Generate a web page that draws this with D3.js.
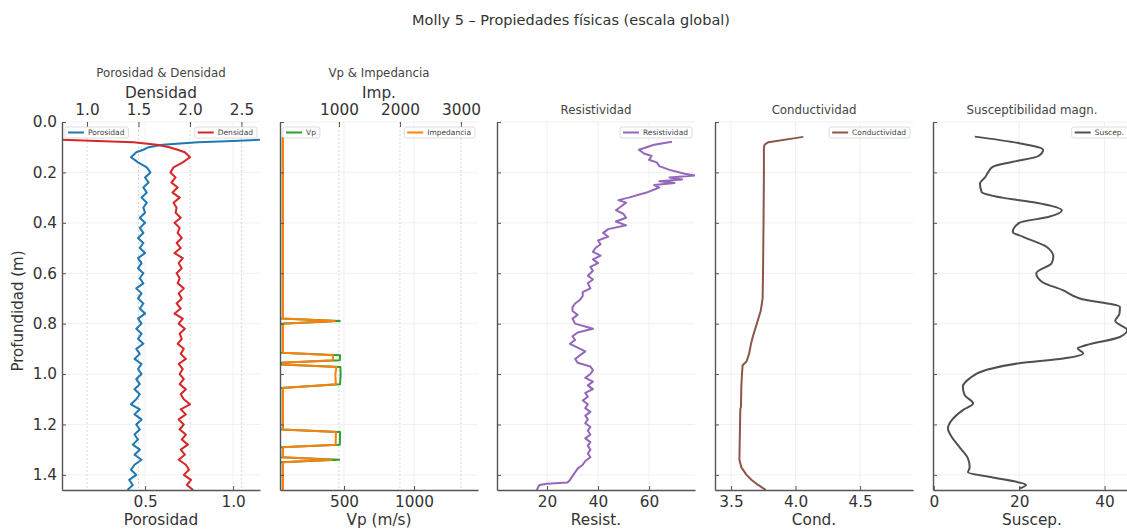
<!DOCTYPE html>
<html>
<head>
<meta charset="utf-8">
<script src="https://cdn.jsdelivr.net/npm/d3@7"></script>
<style>
    body { margin: 0; background: #fff; }
    svg { font-family: "DejaVu Sans", sans-serif; }
</style>
</head>
<body>
<svg id="drawing_region"></svg>
<script>
const chartTitle = 'Molly 5 – Propiedades físicas (escala global)';
const depthTicks = [0.0, 0.2, 0.4, 0.6, 0.8, 1.0, 1.2, 1.4];

// Porosidad & Densidad
const pdDepth = [0.07, 0.075, 0.08, 0.09, 0.10, 0.11,
    0.12, 0.14, 0.16, 0.18, 0.20, 0.22, 0.24, 0.26, 0.28, 0.30,
    0.32, 0.34, 0.36, 0.38, 0.40, 0.42, 0.44, 0.46, 0.48, 0.50,
    0.52, 0.54, 0.56, 0.58, 0.60, 0.62, 0.64, 0.66, 0.68, 0.70,
    0.72, 0.74, 0.76, 0.78, 0.80, 0.82, 0.84, 0.86, 0.88, 0.90,
    0.92, 0.94, 0.96, 0.98, 1.00, 1.02, 1.04, 1.06, 1.08, 1.10,
    1.12, 1.14, 1.16, 1.18, 1.20, 1.22, 1.24, 1.26, 1.28, 1.30,
    1.32, 1.34, 1.36, 1.38, 1.40, 1.42, 1.44, 1.46];
const porosidad = [1.16, 1.00, 0.80, 0.60, 0.52, 0.49,
    0.45, 0.42, 0.46, 0.51, 0.53, 0.50, 0.52, 0.49, 0.51, 0.48,
    0.51, 0.49, 0.50, 0.47, 0.50, 0.47, 0.49, 0.46, 0.49, 0.47,
    0.50, 0.46, 0.48, 0.46, 0.49, 0.47, 0.49, 0.45, 0.48, 0.46,
    0.49, 0.47, 0.50, 0.46, 0.48, 0.45, 0.48, 0.46, 0.49, 0.45,
    0.47, 0.44, 0.48, 0.46, 0.48, 0.45, 0.47, 0.44, 0.47, 0.45,
    0.42, 0.47, 0.44, 0.48, 0.45, 0.47, 0.44, 0.46, 0.43, 0.47,
    0.44, 0.48, 0.44, 0.42, 0.45, 0.41, 0.43, 0.40];
const densidad = [0.76, 1.10, 1.45, 1.68, 1.80, 1.88,
    1.95, 2.00, 1.93, 1.84, 1.81, 1.86, 1.82, 1.88, 1.83, 1.90,
    1.84, 1.87, 1.86, 1.91, 1.85, 1.90, 1.88, 1.92, 1.87, 1.91,
    1.85, 1.93, 1.89, 1.92, 1.87, 1.90, 1.88, 1.94, 1.89, 1.92,
    1.87, 1.91, 1.85, 1.93, 1.89, 1.95, 1.90, 1.92, 1.88, 1.94,
    1.91, 1.96, 1.89, 1.93, 1.90, 1.94, 1.90, 1.96, 1.91, 1.94,
    2.00, 1.91, 1.96, 1.89, 1.94, 1.90, 1.96, 1.92, 1.98, 1.91,
    1.95, 1.89, 1.96, 1.99, 1.94, 2.01, 1.97, 2.03];
const porTicks = [0.5, 1.0];
const denTicks = [1.0, 1.5, 2.0, 2.5];

// Vp & Impedancia
const vpDepth = [0.06, 0.78, 0.79, 0.80, 0.915, 0.925, 0.945, 0.955, 0.962, 0.972,
    1.00, 1.04, 1.055, 1.22, 1.23, 1.28, 1.29, 1.33, 1.34, 1.35, 1.46];
const vp = [45, 45, 470, 45, 45, 472, 470, 45, 45, 474,
    476, 472, 45, 45, 472, 470, 45, 45, 466, 45, 45];
const impedancia = [82, 82, 930, 82, 82, 905, 900, 82, 82, 960,
    940, 950, 82, 82, 950, 945, 82, 82, 880, 82, 82];
const vpTicks = [500, 1000];
const impTicks = [1000, 2000, 3000];

// Resistividad
const resDepth = [0.078, 0.09, 0.11, 0.125, 0.135, 0.15, 0.16, 0.175, 0.19, 0.205,
    0.212, 0.22, 0.228, 0.235, 0.242, 0.25, 0.26, 0.28, 0.30, 0.31,
    0.32, 0.335, 0.35, 0.365, 0.38, 0.395, 0.41, 0.425, 0.44, 0.455,
    0.47, 0.485, 0.50, 0.515, 0.53, 0.545, 0.56, 0.575, 0.59, 0.61,
    0.625, 0.64, 0.66, 0.675, 0.69, 0.705, 0.72, 0.735, 0.75, 0.765,
    0.78, 0.80, 0.82, 0.835, 0.85, 0.865, 0.88, 0.895, 0.91, 0.925,
    0.94, 0.955, 0.97, 0.985, 1.00, 1.015, 1.03, 1.045, 1.06, 1.075,
    1.09, 1.105, 1.12, 1.135, 1.15, 1.165, 1.18, 1.195, 1.21, 1.225,
    1.24, 1.255, 1.27, 1.285, 1.30, 1.315, 1.33, 1.345, 1.36, 1.375,
    1.39, 1.405, 1.42, 1.43, 1.435, 1.44, 1.46];
const resistividad = [69, 62, 56, 58, 61, 60, 63, 64, 68, 74,
    78, 68, 73, 64, 70, 62, 64, 59, 52, 48,
    51, 49, 47, 50, 51, 47, 51, 44, 42, 44,
    40, 41, 39, 38, 41, 38, 40, 37, 38, 36,
    38, 36, 37, 34, 34, 33, 31, 30, 30, 32,
    30, 31, 38, 32, 30, 31, 29, 32, 35, 33,
    31, 32, 37, 38, 37, 35, 38, 36, 38, 35,
    36, 34, 36, 35, 37, 35, 36, 35, 37, 36,
    37, 35, 37, 36, 37, 36, 37, 35, 34, 32,
    31, 30, 29, 28, 20, 17, 16];
const resTicks = [20, 40, 60];

// Conductividad
const condDepth = [0.059, 0.08, 0.09, 0.10, 0.20, 0.40, 0.60, 0.70, 0.75, 0.80,
    0.85, 0.88, 0.92, 0.95, 0.965, 1.00, 1.05, 1.13, 1.14, 1.34,
    1.37, 1.40, 1.42, 1.44, 1.46];
const conductividad = [4.06, 3.79, 3.76, 3.755, 3.755, 3.752, 3.748, 3.745, 3.73, 3.70,
    3.67, 3.655, 3.64, 3.62, 3.59, 3.585, 3.58, 3.577, 3.572, 3.565,
    3.58, 3.62, 3.66, 3.71, 3.77];
const condTicks = [3.5, 4.0, 4.5];

// Susceptibilidad magn.
const susDepth = [0.058, 0.084, 0.11, 0.135, 0.158, 0.178, 0.20, 0.22, 0.243, 0.278,
    0.30, 0.32, 0.35, 0.376, 0.40, 0.436, 0.455, 0.495, 0.535, 0.56,
    0.60, 0.634, 0.667, 0.70, 0.734, 0.76, 0.79, 0.825, 0.853, 0.885,
    0.898, 0.918, 0.938, 0.957, 0.983, 1.017, 1.05, 1.083, 1.117, 1.143,
    1.183, 1.215, 1.25, 1.29, 1.335, 1.37, 1.39, 1.41, 1.43, 1.44, 1.454];
const susceptibilidad = [9.6, 20, 25.6, 24.5, 18.5, 13.8, 12.7, 12, 10.8, 11.2,
    16, 24, 30, 27, 20, 18.5, 20.8, 26.4, 28, 27.6,
    24, 25.3, 30.2, 34.2, 43.6, 43.5, 42.5, 45.3, 43.6, 35.8,
    33.7, 35, 30.3, 20, 12.4, 8.4, 6.8, 7.2, 9.2, 6.8,
    4.2, 3.3, 4.2, 6, 8, 8.4, 8, 13.8, 20, 21.6, 20];
const susTicks = [0, 20, 40];

const W = 1127, H = 531;
const plotTop = 122, plotBottom = 490, trackWidth = 198;
const tickFont = '15.3px';

const svg = d3.select('#drawing_region').attr('width', W).attr('height', H);
const yScale = d3.scaleLinear().domain([0, 1.46]).range([plotTop, plotBottom]);

class LogTrack {

    constructor(config) {
        this.config = config;
        this.x0 = config.left;
        this.x1 = config.left + trackWidth;
        this.init();
    }

    init() {
        let self = this;
        self.g = svg.append('g');
        self.xBottom = d3.scaleLinear().domain(self.config.domain).range([self.x0, self.x1]);
        if (self.config.topDomain) {
            self.xTop = d3.scaleLinear().domain(self.config.topDomain).range([self.x0, self.x1]);
        }
        self.clipId = 'clip' + self.config.left;
        svg.append('clipPath').attr('id', self.clipId)
            .append('rect')
            .attr('x', self.x0).attr('y', plotTop)
            .attr('width', trackWidth).attr('height', plotBottom - plotTop);
    }

    render() {
        let self = this;
        const c = self.config;
        const cx = self.x0 + trackWidth / 2;

        // grid
        const grid = self.g.append('g');
        grid.selectAll('.hg').data(depthTicks).enter().append('line')
            .attr('x1', self.x0).attr('x2', self.x1)
            .attr('y1', d => yScale(d)).attr('y2', d => yScale(d))
            .attr('stroke', '#ececec').attr('stroke-width', 0.8);
        grid.selectAll('.vg').data(c.ticks).enter().append('line')
            .attr('x1', d => self.xBottom(d)).attr('x2', d => self.xBottom(d))
            .attr('y1', plotTop).attr('y2', plotBottom)
            .attr('stroke', '#ececec').attr('stroke-width', 0.8);
        if (self.xTop) {
            grid.selectAll('.tg').data(c.topTicks).enter().append('line')
                .attr('x1', d => self.xTop(d)).attr('x2', d => self.xTop(d))
                .attr('y1', plotTop).attr('y2', plotBottom)
                .attr('stroke', '#c8c8c8').attr('stroke-width', 0.7)
                .attr('stroke-dasharray', '2,2');
        }

        // curves
        c.series.forEach(s => {
            const xs = s.top ? self.xTop : self.xBottom;
            const line = d3.line()
                .x(d => xs(d.v))
                .y(d => yScale(d.d))
                .curve(s.curve || d3.curveLinear);
            const pts = s.depth.map((d, i) => ({ d: d, v: s.values[i] }));
            self.g.append('path')
                .datum(pts)
                .attr('clip-path', `url(#${self.clipId})`)
                .attr('d', line)
                .attr('fill', 'none')
                .attr('stroke', s.color)
                .attr('stroke-width', 2)
                .attr('stroke-linejoin', 'round');
        });

        // axes
        const left = self.g.append('g')
            .attr('transform', `translate(${self.x0},0)`)
            .call(d3.axisLeft(yScale).tickValues(depthTicks)
                .tickSize(-4).tickSizeOuter(0).tickPadding(5)
                .tickFormat(c.showDepth ? d3.format('.1f') : ''));
        const bottom = self.g.append('g')
            .attr('transform', `translate(0,${plotBottom})`)
            .call(d3.axisBottom(self.xBottom).tickValues(c.ticks)
                .tickSize(-4).tickSizeOuter(0).tickPadding(6)
                .tickFormat(c.format));
        [left, bottom].forEach(a => {
            a.select('.domain').attr('stroke', '#555').attr('stroke-width', 1.4);
        });
        const axes = [left, bottom];
        if (self.xTop) {
            const top = self.g.append('g')
                .attr('transform', `translate(0,${plotTop})`)
                .call(d3.axisTop(self.xTop).tickValues(c.topTicks)
                    .tickSize(-5).tickSizeOuter(0).tickPadding(7)
                    .tickFormat(c.topFormat));
            top.select('.domain').remove();
            axes.push(top);
        }
        axes.forEach(a => {
            a.selectAll('.tick line').attr('stroke', '#555').attr('stroke-width', 1);
            a.selectAll('.tick text').attr('fill', '#333')
                .style('font-size', tickFont).style('font-family', '"DejaVu Sans", sans-serif');
        });

        // labels
        self.g.append('text')
            .attr('x', cx).attr('y', 525)
            .attr('text-anchor', 'middle')
            .attr('fill', '#333').style('font-size', tickFont)
            .text(c.label);
        if (c.topLabel) {
            self.g.append('text')
                .attr('x', cx).attr('y', 98)
                .attr('text-anchor', 'middle')
                .attr('fill', '#333').style('font-size', tickFont)
                .text(c.topLabel);
        }
        self.g.append('text')
            .attr('x', cx).attr('y', c.titleY)
            .attr('text-anchor', 'middle')
            .attr('fill', '#444').style('font-size', '11.8px')
            .text(c.title);

        // legends
        c.legends.forEach(item => self.legend(item));
    }

    legend(item) {
        let self = this;
        const g = self.g.append('g');
        const rect = g.append('rect');
        const txt = g.append('text')
            .attr('fill', '#444').style('font-size', '7.5px')
            .text(item.label);
        const tw = txt.node().getComputedTextLength();
        const w = 23 + tw + 4;
        const bx = item.side === 'left' ? self.x0 + 3 : self.x1 - 3 - w;
        const by = 127;
        rect.attr('x', bx).attr('y', by).attr('width', w).attr('height', 11)
            .attr('rx', 2)
            .attr('fill', '#fff').attr('fill-opacity', 0.85)
            .attr('stroke', '#d4d4d4').attr('stroke-width', 0.8);
        g.append('line')
            .attr('x1', bx + 3).attr('x2', bx + 19)
            .attr('y1', by + 5.5).attr('y2', by + 5.5)
            .attr('stroke', item.color).attr('stroke-width', 2);
        txt.attr('x', bx + 23).attr('y', by + 8.2);
    }
}

const f1 = d3.format('.1f');
const f0 = d3.format('d');

const tracks = [
    {
        left: 62, domain: [0.028, 1.153], ticks: porTicks, format: f1, label: 'Porosidad',
        topDomain: [0.757, 2.68], topTicks: denTicks, topFormat: f1, topLabel: 'Densidad',
        title: 'Porosidad & Densidad', titleY: 77, showDepth: true,
        series: [
            { depth: pdDepth, values: porosidad, color: '#1f77b4' },
            { depth: pdDepth, values: densidad, color: '#d62728', top: true }
        ],
        legends: [
            { label: 'Porosidad', color: '#1f77b4', side: 'left' },
            { label: 'Densidad', color: '#d62728', side: 'right' }
        ]
    },
    {
        left: 280, domain: [43, 1457], ticks: vpTicks, format: f0, label: 'Vp (m/s)',
        topDomain: [33, 3280], topTicks: impTicks, topFormat: f0, topLabel: 'Imp.',
        title: 'Vp & Impedancia', titleY: 77,
        series: [
            { depth: vpDepth, values: vp, color: '#2ca02c' },
            { depth: vpDepth, values: impedancia, color: '#ff7f0e', top: true }
        ],
        legends: [
            { label: 'Vp', color: '#2ca02c', side: 'left' },
            { label: 'Impedancia', color: '#ff7f0e', side: 'right' }
        ]
    },
    {
        left: 497, domain: [0.4, 78], ticks: resTicks, format: f0, label: 'Resist.',
        title: 'Resistividad', titleY: 114,
        series: [{ depth: resDepth, values: resistividad, color: '#9467bd' }],
        legends: [{ label: 'Resistividad', color: '#9467bd', side: 'right' }]
    },
    {
        left: 715, domain: [3.376, 4.91], ticks: condTicks, format: f1, label: 'Cond.',
        title: 'Conductividad', titleY: 114,
        series: [{ depth: condDepth, values: conductividad, color: '#8c564b' }],
        legends: [{ label: 'Conductividad', color: '#8c564b', side: 'right' }]
    },
    {
        left: 933, domain: [-0.2, 46.2], ticks: susTicks, format: f0, label: 'Suscep.',
        title: 'Susceptibilidad magn.', titleY: 114,
        series: [{ depth: susDepth, values: susceptibilidad, color: '#505050', curve: d3.curveMonotoneY }],
        legends: [{ label: 'Suscep.', color: '#505050', side: 'right' }]
    }
];

tracks.forEach(cfg => {
    const track = new LogTrack(cfg);
    track.render();
});

svg.append('text')
    .attr('transform', 'translate(23,311) rotate(-90)')
    .attr('text-anchor', 'middle')
    .attr('fill', '#333').style('font-size', '15px')
    .text('Profundidad (m)');

svg.append('text')
    .attr('x', 571).attr('y', 25)
    .attr('text-anchor', 'middle')
    .attr('fill', '#333').style('font-size', '14.5px')
    .text(chartTitle);
</script>
</body>
</html>
